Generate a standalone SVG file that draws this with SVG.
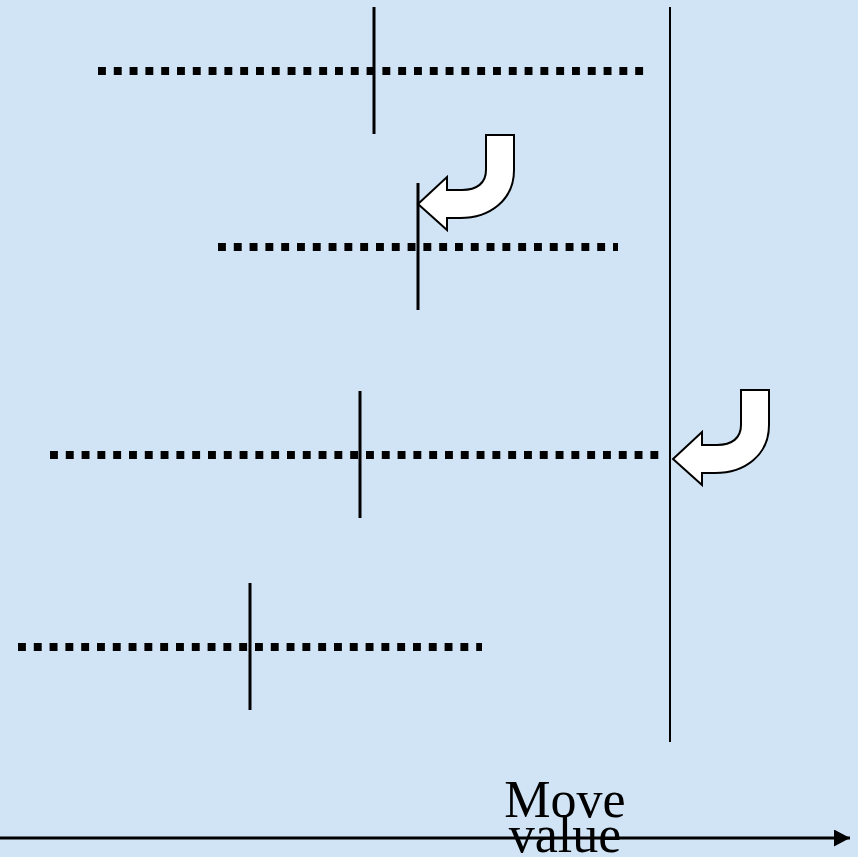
<svg xmlns="http://www.w3.org/2000/svg" width="858" height="857" viewBox="0 0 858 857">
<style>
.dot{stroke:#000;stroke-width:8;stroke-dasharray:7.9 7.9;fill:none}
.tick{stroke:#000;stroke-width:3}
.bend{fill:#fff;stroke:#000;stroke-width:2;stroke-linejoin:miter}
.lbl{font-family:"Liberation Serif",serif;font-size:52px;fill:#000;text-anchor:middle}
</style>
<defs>
<marker id="ah" markerWidth="16" markerHeight="17" refX="16" refY="8.5" orient="auto" markerUnits="userSpaceOnUse">
<path d="M0,0 L16,8.5 L0,17 Z" fill="#000"/>
</marker>
<path id="bendArrow" d="M486,135 L514,135 L514,170 C514,200 490,218 460,218 L447,218 L447,230 L418,204 L447,177 L447,190 L462,190 C477,190 486,183 486,170 Z"/>
</defs>
<rect width="858" height="857" fill="#d1e4f5"/>
<g id="limit"><line x1="670" y1="7" x2="670" y2="742" stroke="#000" stroke-width="2"/></g>
<g id="row1"><line class="dot" x1="98" y1="71" x2="646" y2="71"/><line class="tick" x1="374" y1="7" x2="374" y2="134"/></g>
<g id="row2"><line class="dot" x1="218" y1="247" x2="618" y2="247"/><line class="tick" x1="418" y1="183" x2="418" y2="310"/></g>
<g id="row3"><line class="dot" x1="50" y1="455" x2="662" y2="455"/><line class="tick" x1="360" y1="391" x2="360" y2="518"/></g>
<g id="row4"><line class="dot" x1="18" y1="647" x2="482" y2="647"/><line class="tick" x1="250" y1="583" x2="250" y2="710"/></g>
<g id="connectors">
<use href="#bendArrow" class="bend"/>
<use href="#bendArrow" class="bend" transform="translate(255,255)"/>
<line x1="0" y1="838" x2="850" y2="838" stroke="#000" stroke-width="3" marker-end="url(#ah)"/>
</g>
<g id="axisLabel">
<text class="lbl" x="565" y="817">Move</text>
<text class="lbl" x="565" y="852">value</text>
</g>
</svg>
